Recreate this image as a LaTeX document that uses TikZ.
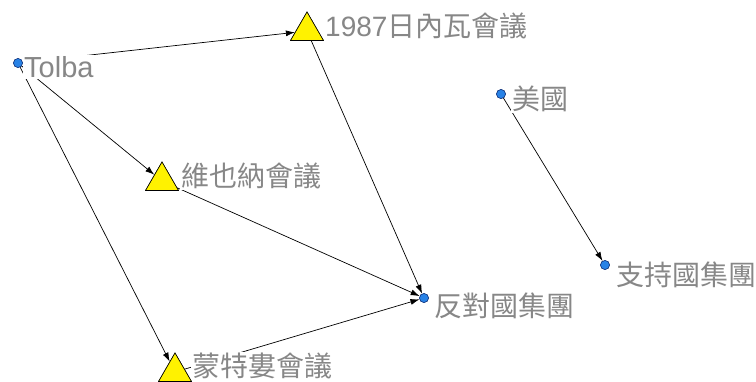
\documentclass[tikz,border=0pt]{standalone}
\usepackage{fontspec}
\setmainfont{Liberation Sans}
\newfontfamily\cjk{Noto Sans CJK TC}
\usetikzlibrary{shapes.geometric,arrows.meta}
\definecolor{dotblue}{RGB}{40,130,230}
\definecolor{dotedge}{RGB}{20,50,120}
\definecolor{labelgray}{RGB}{135,135,135}
\tikzset{
  actor/.style={circle,fill=dotblue,draw=dotedge,line width=0.5pt,minimum size=9pt,inner sep=0pt},
  event/.style={regular polygon,regular polygon sides=3,fill=yellow,draw=black,line width=0.6pt,minimum size=38pt,inner sep=0pt},
  lab/.style={anchor=west,fill=white,inner sep=1pt,text=labelgray,font=\fontsize{28}{30}\selectfont},
  link/.style={draw=black,line width=0.7pt,-{Latex[length=9pt,width=6pt]}}
}
\begin{document}
\begin{tikzpicture}[x=1pt,y=-1pt]
\useasboundingbox (0,0) rectangle (756,381);
% node positions
\coordinate (ptolba) at (18,63);
\coordinate (p1987) at (307,31);
\coordinate (pvienna) at (162,181);
\coordinate (pmontreal) at (175,372);
\coordinate (poppose) at (424,298);
\coordinate (pusa) at (501,94);
\coordinate (psupport) at (605,265);
% nodes and edges (labels cover edges)
\node[actor] (tolba) at (ptolba) {};
\node[event] (g1987) at (p1987) {};
\node[event] (vienna) at (pvienna) {};
\node[event] (montreal) at (pmontreal) {};
\node[actor] (oppose) at (poppose) {};
\node[actor] (usa) at (pusa) {};
\node[actor] (support) at (psupport) {};
\draw[link] (tolba) -- (g1987);
\draw[link] (tolba) -- (vienna);
\draw[link] (tolba) -- (montreal);
\draw[link] (g1987) -- (oppose);
\draw[link] (vienna) -- (oppose);
\draw[link] (montreal) -- (oppose);
\draw[link] (usa) -- (support);
% labels
\node[lab,font=\fontsize{29}{30}\selectfont] (ltolba) at (23,67) {Tolba};
\node[lab] (l1987) at (324,26) {1987{\cjk 日內瓦會議}};
\node[lab] (lvienna) at (180,176) {\cjk 維也納會議};
\node[lab] (lmontreal) at (191,366) {\cjk 蒙特婁會議};
\node[lab] (loppose) at (433,306) {\cjk 反對國集團};
\node[lab] (lusa) at (511,99) {\cjk 美國};
\node[lab] (lsupport) at (615,275) {\cjk 支持國集團};
% node symbols on top
\node[actor] at (ptolba) {};
\node[event] at (p1987) {};
\node[event] at (pvienna) {};
\node[event] at (pmontreal) {};
\node[actor] at (poppose) {};
\node[actor] at (pusa) {};
\node[actor] at (psupport) {};
\end{tikzpicture}
\end{document}
